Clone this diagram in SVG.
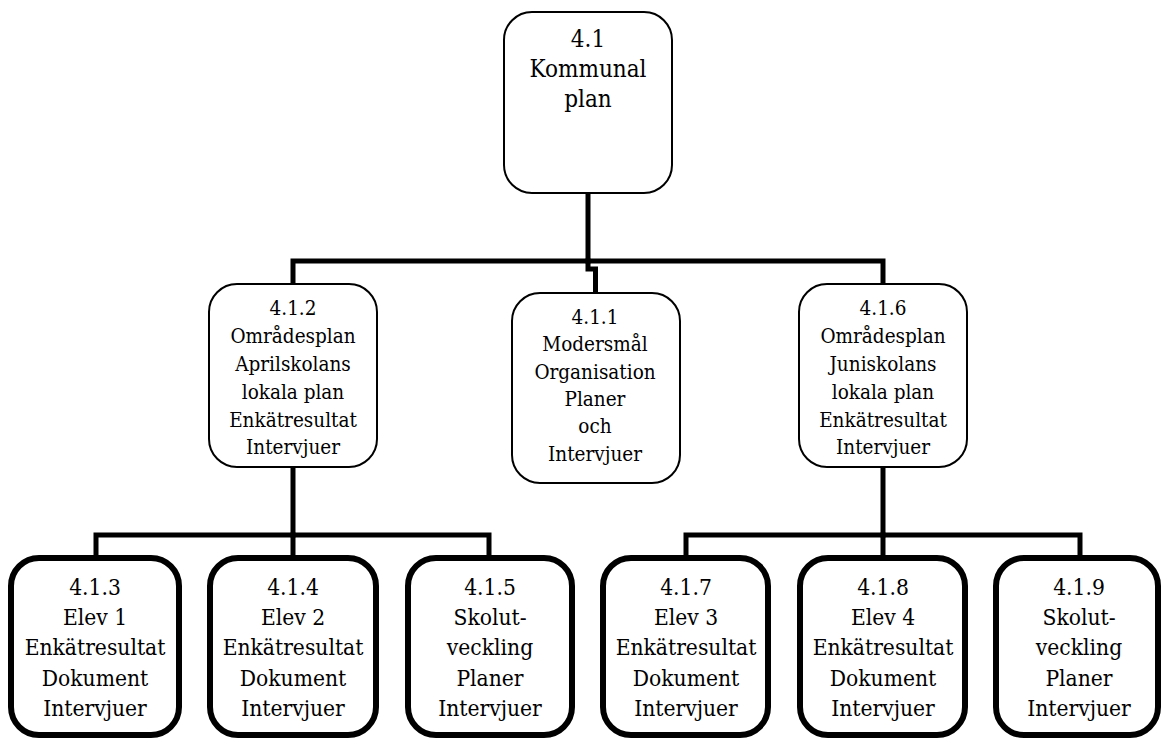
<svg xmlns="http://www.w3.org/2000/svg" width="1162" height="740" viewBox="0 0 1162 740">
<style>
.thin{fill:#fff;stroke:#000;stroke-width:2}
.thick{fill:#fff;stroke:#000;stroke-width:6}
.c{fill:none;stroke:#000;stroke-width:5;stroke-linejoin:miter;stroke-linecap:square}
text{font-family:"DejaVu Serif Condensed","DejaVu Serif",serif;font-stretch:condensed;fill:#000;text-anchor:middle}
.t{font-size:24px}
.m{font-size:20.5px}
.b{font-size:22.6px}
</style>
<rect width="1162" height="740" fill="#fff"/>
<g id="connectors">
<path class="c" d="M588,195 V261"/>
<path class="c" d="M293,284 V261 H883 V284"/>
<path class="c" d="M588,261 V269 H595.5 V292"/>
<path class="c" d="M293,468 V535"/>
<path class="c" d="M96,556 V535 H489 V556"/>
<path class="c" d="M293,535 V556"/>
<path class="c" d="M883,468 V535"/>
<path class="c" d="M686,556 V535 H1080 V556"/>
<path class="c" d="M883,535 V556"/>
</g>
<g id="n41">
<rect class="thin" x="504" y="12" width="168" height="181" rx="28"/>
<text class="t"><tspan x="588" y="47">4.1</tspan><tspan x="588" y="77">Kommunal</tspan><tspan x="588" y="107">plan</tspan></text>
</g>
<g id="n412">
<rect class="thin" x="209" y="284" width="168" height="183" rx="28"/>
<text class="m"><tspan x="293" y="315">4.1.2</tspan><tspan x="293" y="343">Områdesplan</tspan><tspan x="293" y="371">Aprilskolans</tspan><tspan x="293" y="399">lokala plan</tspan><tspan x="293" y="427">Enkätresultat</tspan><tspan x="293" y="454">Intervjuer</tspan></text>
</g>
<g id="n411">
<rect class="thin" x="512" y="293" width="168" height="190" rx="28"/>
<text class="m"><tspan x="595" y="324">4.1.1</tspan><tspan x="595" y="351">Modersmål</tspan><tspan x="595" y="379">Organisation</tspan><tspan x="595" y="406">Planer</tspan><tspan x="595" y="433">och</tspan><tspan x="595" y="461">Intervjuer</tspan></text>
</g>
<g id="n416">
<rect class="thin" x="799" y="284" width="168" height="183" rx="28"/>
<text class="m"><tspan x="883" y="315">4.1.6</tspan><tspan x="883" y="343">Områdesplan</tspan><tspan x="883" y="371">Juniskolans</tspan><tspan x="883" y="399">lokala plan</tspan><tspan x="883" y="427">Enkätresultat</tspan><tspan x="883" y="454">Intervjuer</tspan></text>
</g>
<g id="n413">
<rect class="thick" x="11" y="558" width="168" height="177" rx="28"/>
<text class="b"><tspan x="95" y="595">4.1.3</tspan><tspan x="95" y="625">Elev 1</tspan><tspan x="95" y="655">Enkätresultat</tspan><tspan x="95" y="686">Dokument</tspan><tspan x="95" y="716">Intervjuer</tspan></text>
</g>
<g id="n414">
<rect class="thick" x="210" y="558" width="166" height="177" rx="28"/>
<text class="b"><tspan x="293" y="595">4.1.4</tspan><tspan x="293" y="625">Elev 2</tspan><tspan x="293" y="655">Enkätresultat</tspan><tspan x="293" y="686">Dokument</tspan><tspan x="293" y="716">Intervjuer</tspan></text>
</g>
<g id="n415">
<rect class="thick" x="408" y="558" width="164" height="177" rx="28"/>
<text class="b"><tspan x="490" y="595">4.1.5</tspan><tspan x="490" y="625">Skolut-</tspan><tspan x="490" y="655">veckling</tspan><tspan x="490" y="686">Planer</tspan><tspan x="490" y="716">Intervjuer</tspan></text>
</g>
<g id="n417">
<rect class="thick" x="603" y="558" width="165" height="177" rx="28"/>
<text class="b"><tspan x="686" y="595">4.1.7</tspan><tspan x="686" y="625">Elev 3</tspan><tspan x="686" y="655">Enkätresultat</tspan><tspan x="686" y="686">Dokument</tspan><tspan x="686" y="716">Intervjuer</tspan></text>
</g>
<g id="n418">
<rect class="thick" x="800" y="558" width="165" height="177" rx="28"/>
<text class="b"><tspan x="883" y="595">4.1.8</tspan><tspan x="883" y="625">Elev 4</tspan><tspan x="883" y="655">Enkätresultat</tspan><tspan x="883" y="686">Dokument</tspan><tspan x="883" y="716">Intervjuer</tspan></text>
</g>
<g id="n419">
<rect class="thick" x="996" y="558" width="162" height="177" rx="28"/>
<text class="b"><tspan x="1079" y="595">4.1.9</tspan><tspan x="1079" y="625">Skolut-</tspan><tspan x="1079" y="655">veckling</tspan><tspan x="1079" y="686">Planer</tspan><tspan x="1079" y="716">Intervjuer</tspan></text>
</g>
</svg>
